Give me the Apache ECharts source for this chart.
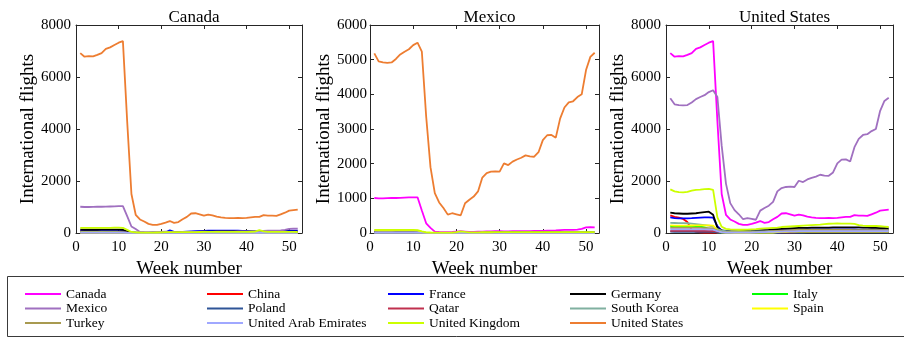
<!DOCTYPE html>
<html><head><meta charset="utf-8">
<script src="https://cdn.jsdelivr.net/npm/echarts@6/dist/echarts.min.js"></script>
<style>html,body{margin:0;padding:0;background:#fff}#c{width:904px;height:339px}</style>
</head><body><div id="c"></div>
<script>
const weeks = [1,2,3,4,5,6,7,8,9,10,11,12,13,14,15,16,17,18,19,20,21,22,23,24,25,26,27,28,29,30,31,32,33,34,35,36,37,38,39,40,41,42,43,44,45,46,47,48,49,50,51,52];
const countries = ['Canada','China','France','Germany','Italy','Mexico','Poland','Qatar','South Korea','Spain','Turkey','United Arab Emirates','United Kingdom','United States'];
const panelTitles = ['Canada','Mexico','United States'];
const yMax = [8000, 6000, 8000];
const yStep = [2000, 1000, 2000];
const xTicks = [0,10,20,30,40,50];

// Canada panel
const ca_US = [6920,6780,6800,6790,6850,6920,7080,7140,7230,7320,7380,4300,1500,700,520,440,350,310,310,350,400,460,390,420,530,620,750,760,720,670,710,680,630,600,580,575,575,580,570,580,600,620,620,690,670,665,660,720,780,860,880,900];
const ca_MX = [1010,1000,1000,1005,1010,1010,1015,1020,1025,1030,1030,650,250,150,40,30,25,25,30,40,50,40,30,35,40,40,45,45,50,55,45,45,50,50,55,55,55,60,60,60,65,70,75,85,90,90,90,100,120,160,170,165];
const ca_UK = [200,195,195,195,195,200,200,200,205,205,200,120,40,25,20,18,18,18,20,22,30,35,30,30,32,34,35,36,38,40,40,40,42,42,42,44,45,45,45,45,48,50,110,60,45,42,40,40,40,42,40,38];
const ca_DE = [130,125,125,125,125,128,130,130,130,130,125,60,20,12,10,10,10,10,12,12,15,18,20,22,25,30,35,40,45,50,55,55,58,60,60,60,58,58,55,55,55,55,55,55,50,50,50,50,50,50,50,50];
const ca_FR = [70,68,68,68,70,70,72,72,72,72,70,40,15,10,8,8,8,10,10,12,30,100,40,30,40,50,60,70,80,85,95,95,95,95,95,90,90,90,85,85,85,85,80,80,80,80,80,80,85,90,95,95];
const ca_CN = [60,55,50,40,20,8,5,5,5,5,5,4,3,3,3,3,3,3,3,3,3,3,3,3,3,3,3,3,3,3,3,3,3,3,3,3,3,3,3,3,3,3,3,3,3,3,3,3,3,3,3,3];
const ca_IT = [25,25,25,25,25,25,24,22,20,12,6,3,2,2,2,2,2,2,2,2,2,2,2,2,3,4,5,6,6,6,6,6,6,6,6,6,6,6,6,6,6,6,6,6,6,6,6,6,6,6,6,6];
const ca_ES = [20,20,20,20,20,20,20,20,20,20,18,8,3,2,2,2,2,2,2,2,2,2,2,2,3,4,5,6,6,6,6,6,6,6,6,6,6,6,6,6,6,6,6,6,6,6,6,6,6,6,6,6];
const ca_PL = [10,10,10,10,10,10,10,10,10,10,10,5,2,1,1,1,1,1,1,1,1,1,1,1,1,2,2,2,2,2,2,2,2,2,2,2,2,2,2,2,2,2,2,2,2,2,2,2,2,2,2,2];
const ca_QA = [14,14,14,14,14,14,14,14,14,14,14,10,6,5,5,5,5,5,5,5,5,5,5,5,6,6,7,8,8,8,8,8,8,8,8,8,8,8,8,8,8,8,8,8,8,8,8,8,8,8,8,8];
const ca_KR = [22,22,22,22,22,20,18,16,15,15,14,8,5,4,4,4,4,4,4,4,4,4,4,5,5,6,6,6,6,6,6,6,6,6,6,6,6,6,6,6,6,6,6,6,6,6,6,6,6,6,6,6];
const ca_TR = [14,14,14,14,14,14,14,14,14,14,13,7,3,2,2,2,2,2,2,2,2,2,3,3,4,5,6,7,7,8,8,8,8,8,8,8,8,8,8,8,8,8,8,8,8,8,8,8,8,8,8,8];
const ca_AE = [18,18,18,18,18,18,18,18,18,18,17,10,5,4,4,4,4,4,4,4,4,4,5,5,6,7,8,9,9,10,10,10,10,10,10,10,10,10,10,10,10,10,10,10,10,10,10,10,10,10,10,10];

// Mexico panel
const mx_US = [5180,4950,4920,4910,4920,5020,5150,5230,5300,5420,5490,5230,3360,1900,1150,880,720,530,570,540,510,860,960,1050,1200,1600,1730,1770,1780,1770,2010,1960,2060,2120,2170,2240,2210,2200,2330,2680,2820,2830,2750,3300,3620,3770,3800,3920,4000,4700,5080,5200];
const mx_CA = [1010,1000,1000,1005,1010,1010,1015,1020,1025,1030,1030,650,280,150,40,30,25,25,30,40,50,40,30,35,40,40,45,45,50,55,45,45,50,50,55,55,55,60,60,60,65,70,75,85,90,90,90,100,120,160,170,165];
const mx_UK = [90,88,88,88,88,90,90,90,90,90,85,50,20,15,12,10,10,12,15,25,50,30,20,20,20,22,22,22,24,24,25,25,25,25,26,26,26,26,27,27,28,28,28,28,28,28,28,28,28,28,28,28];
const mx_ES = [75,72,72,72,72,74,75,75,76,76,70,35,10,5,5,5,5,5,5,5,5,5,5,6,6,7,8,8,9,10,10,10,10,10,10,10,10,10,10,10,10,10,10,10,10,10,10,10,10,10,10,10];
const mx_DE = [35,34,34,34,34,35,35,35,35,35,32,15,5,3,3,3,3,3,3,3,3,3,4,4,5,6,7,8,8,8,8,8,8,8,8,8,8,8,8,8,8,8,8,8,8,8,8,8,8,8,8,8];
const mx_FR = [40,38,38,38,38,40,40,40,40,40,36,18,6,4,4,4,4,4,4,4,4,4,5,5,6,8,10,12,12,14,14,15,15,15,16,16,16,17,17,18,18,18,18,18,18,18,18,18,18,18,18,18];
const mx_CN = [8,8,8,8,4,2,1,1,1,1,1,1,1,1,1,1,1,1,1,1,1,1,1,1,1,1,1,1,1,1,1,1,1,1,1,1,1,1,1,1,1,1,1,1,1,1,1,1,1,1,1,1];
const mx_IT = [6,6,6,6,6,6,6,6,5,3,2,1,1,1,1,1,1,1,1,1,1,1,1,1,1,1,1,1,1,1,1,1,1,1,1,1,1,1,1,1,1,1,1,1,1,1,1,1,1,1,1,1];
const mx_PL = [3,3,3,3,3,3,3,3,3,3,3,2,1,1,1,1,1,1,1,1,1,1,1,1,1,1,1,1,1,1,1,1,1,1,1,1,1,1,1,1,1,1,1,1,1,1,1,1,1,1,1,1];
const mx_QA = [8,8,8,8,8,8,8,8,8,8,8,6,4,3,3,3,3,3,3,3,3,3,3,3,3,4,4,4,4,4,4,4,4,4,4,4,4,4,4,4,4,4,4,4,4,4,4,4,4,4,4,4];
const mx_KR = [10,10,10,10,10,10,9,8,8,8,7,4,2,2,2,2,2,2,2,2,2,2,2,2,2,2,2,2,2,2,2,2,2,2,2,2,2,2,2,2,2,2,2,2,2,2,2,2,2,2,2,2];
const mx_TR = [12,12,12,12,12,12,12,12,12,12,11,6,3,2,2,2,2,2,2,2,2,2,3,3,4,5,6,7,7,8,8,8,8,8,8,8,8,8,8,8,8,8,8,8,8,8,8,8,8,8,8,8];
const mx_AE = [15,15,15,15,15,15,15,15,15,15,14,8,4,3,3,3,3,3,3,3,3,3,3,3,4,5,6,6,6,6,6,6,6,6,6,6,6,6,6,6,6,6,6,6,6,6,6,6,6,6,6,6];

// United States panel
const us_CA = [6920,6780,6800,6790,6850,6920,7080,7140,7230,7320,7380,4300,1500,700,520,440,350,310,310,350,400,460,390,420,530,620,750,760,720,670,710,680,630,600,580,575,575,580,570,580,600,620,620,690,670,665,660,720,780,860,880,900];
const us_MX = [5180,4950,4920,4910,4920,5020,5150,5230,5300,5420,5490,5230,3360,1900,1150,880,720,530,570,540,510,860,960,1050,1200,1600,1730,1770,1780,1770,2010,1960,2060,2120,2170,2240,2210,2200,2330,2680,2820,2830,2750,3300,3620,3770,3800,3920,4000,4700,5080,5200];
const us_UK = [1680,1600,1570,1560,1580,1630,1660,1670,1690,1700,1660,600,240,160,140,130,125,125,130,140,150,165,180,190,200,210,230,240,250,260,270,280,290,300,310,320,340,355,360,365,360,360,360,350,300,280,270,270,270,260,245,230];
const us_DE = [780,760,750,740,740,750,760,780,800,820,700,200,100,80,70,65,65,70,75,80,90,100,110,120,140,150,160,170,180,190,195,200,200,205,205,210,210,210,215,215,220,220,220,220,215,210,205,200,195,190,185,180];
const us_FR = [600,570,560,560,565,570,580,590,600,600,590,260,90,60,50,45,45,50,55,60,70,80,90,95,100,105,110,115,120,125,130,130,135,135,140,140,140,140,140,140,140,140,135,135,130,130,130,125,125,125,120,120];
const us_CN = [680,620,590,540,420,120,40,25,20,20,20,18,15,15,15,15,15,15,15,18,20,20,20,22,22,25,25,25,28,28,30,30,30,30,30,32,32,32,32,35,35,35,35,35,35,35,35,35,35,35,35,35];
const us_KR = [390,385,380,380,375,360,340,320,300,280,250,150,90,70,60,55,55,55,55,60,60,65,65,70,70,75,75,80,80,85,85,90,90,90,90,95,95,95,95,100,100,100,100,100,100,100,100,100,100,100,100,100];
const us_ES = [290,285,285,285,285,288,290,290,290,290,280,100,25,15,12,10,10,10,10,12,12,12,15,15,20,30,40,45,50,55,55,55,55,55,55,55,55,55,55,55,55,55,55,55,55,55,55,55,55,55,55,55];
const us_IT = [260,255,255,255,255,255,250,240,220,150,60,25,15,10,10,10,10,10,10,10,12,12,15,20,25,30,40,45,50,55,55,55,55,55,55,55,55,55,55,55,55,55,55,50,50,50,50,50,50,50,50,50];
const us_TR = [200,195,195,195,195,195,195,195,190,185,175,90,40,30,25,25,25,25,25,30,35,40,50,60,70,80,90,100,110,115,120,120,120,120,120,120,120,120,120,120,120,115,115,110,110,110,110,110,110,110,110,110];
const us_AE = [140,138,138,138,138,138,138,138,136,135,130,70,30,20,15,15,15,15,18,20,25,30,35,40,45,50,55,60,65,65,70,70,70,70,70,70,70,70,70,70,70,70,70,70,70,70,70,70,70,70,70,70];
const us_QA = [80,78,78,78,78,78,78,78,78,78,76,50,30,25,25,25,25,25,25,28,30,32,35,38,40,45,50,55,55,60,60,60,60,60,60,60,60,60,60,60,60,60,60,60,60,60,60,60,60,60,60,60];
const us_PL = [50,48,48,48,48,48,48,48,48,48,46,20,8,5,5,5,5,5,5,5,5,6,6,7,8,10,12,15,18,20,20,20,22,22,22,22,22,22,22,22,22,22,22,22,22,22,22,22,22,22,22,22];

const colors = {
  'Canada':'#FF00FF','China':'#FF0000','France':'#0000FF','Germany':'#000000','Italy':'#00FF00',
  'Mexico':'#A070C0','Poland':'#2F5597','Qatar':'#C0304F','South Korea':'#80B0A0','Spain':'#FFFF00',
  'Turkey':'#A89A50','United Arab Emirates':'#A0A8FF','United Kingdom':'#CCFF00','United States':'#ED7D31'
};

const panels = [
  {'China':ca_CN,'France':ca_FR,'Germany':ca_DE,'Italy':ca_IT,'Mexico':ca_MX,'Poland':ca_PL,'Qatar':ca_QA,'South Korea':ca_KR,'Spain':ca_ES,'Turkey':ca_TR,'United Arab Emirates':ca_AE,'United Kingdom':ca_UK,'United States':ca_US},
  {'Canada':mx_CA,'China':mx_CN,'France':mx_FR,'Germany':mx_DE,'Italy':mx_IT,'Poland':mx_PL,'Qatar':mx_QA,'South Korea':mx_KR,'Spain':mx_ES,'Turkey':mx_TR,'United Arab Emirates':mx_AE,'United Kingdom':mx_UK,'United States':mx_US},
  {'Canada':us_CA,'China':us_CN,'France':us_FR,'Germany':us_DE,'Italy':us_IT,'Mexico':us_MX,'Poland':us_PL,'Qatar':us_QA,'South Korea':us_KR,'Spain':us_ES,'Turkey':us_TR,'United Arab Emirates':us_AE,'United Kingdom':us_UK}
];

const FONT = 'Liberation Serif';
const AX = '#262626';
const gridPos = [
  {left:76, width:226, top:25, height:208},
  {left:370, width:229, top:25, height:208},
  {left:666, width:227, top:25, height:208}
];
const yNameGap = [37, 27, 38];

const grid = [], xAxis = [], yAxis = [], series = [], title = [];
gridPos.forEach((g, i) => {
  grid.push({left:g.left, top:g.top, width:g.width, height:g.height, show:false});
  title.push({text:panelTitles[i], left:g.left + g.width/2, top:4, textAlign:'center',
    textStyle:{fontFamily:FONT, fontSize:17, fontWeight:'normal', color:'#000'}});
  const common = {type:'value', min:0, max:53, interval:10, gridIndex:i,
    axisLine:{show:true, onZero:false, lineStyle:{color:AX, width:1}},
    axisTick:{show:true, inside:true, length:4, lineStyle:{color:AX}},
    splitLine:{show:false}};
  xAxis.push(Object.assign({}, common, {position:'bottom',
    name:'Week number', nameLocation:'middle', nameGap:27,
    nameTextStyle:{fontFamily:FONT, fontSize:19, color:'#000'},
    axisLabel:{fontFamily:FONT, fontSize:15, color:'#000', margin:7,
      formatter: v => xTicks.indexOf(v) >= 0 ? String(v) : ''}}));
  xAxis.push(Object.assign({}, common, {position:'top', axisLabel:{show:false}}));
  const ycommon = {type:'value', min:0, max:yMax[i], interval:yStep[i], gridIndex:i,
    axisLine:{show:true, onZero:false, lineStyle:{color:AX, width:1}},
    axisTick:{show:true, inside:true, length:4, lineStyle:{color:AX}},
    splitLine:{show:false}};
  yAxis.push(Object.assign({}, ycommon, {position:'left',
    name:'International flights', nameLocation:'middle', nameGap:yNameGap[i],
    nameTextStyle:{fontFamily:FONT, fontSize:19, color:'#000'},
    axisLabel:{fontFamily:FONT, fontSize:15, color:'#000', margin:i === 1 ? 3 : 5,
      formatter: v => String(v)}}));
  yAxis.push(Object.assign({}, ycommon, {position:'right', axisLabel:{show:false}}));
  countries.forEach(name => {
    const vals = panels[i][name];
    if (!vals) return;
    series.push({name:name, type:'line', xAxisIndex:2*i, yAxisIndex:2*i,
      data: weeks.map((w, k) => [w, vals[k]]),
      symbol:'none', smooth:false, color:colors[name],
      lineStyle:{width:1.8, color:colors[name]}, emphasis:{disabled:true}, silent:true,
      z: countries.indexOf(name) + 2});
  });
});

const legCols = [
  ['Canada','Mexico','Turkey'],
  ['China','Poland','United Arab Emirates'],
  ['France','Qatar','United Kingdom'],
  ['Germany','South Korea','United States'],
  ['Italy','Spain']
];
const legX = [25, 207, 388, 570, 752];
const legend = legCols.map((names, j) => ({
  orient:'vertical', left:legX[j], top:287, padding:0, itemGap:0.5,
  itemWidth:36, itemHeight:2, icon:'rect', selectedMode:false,
  data:names,
  textStyle:{fontFamily:FONT, fontSize:13.5, color:'#000', lineHeight:14}
}));

const chart = echarts.init(document.getElementById('c'), null, {renderer:'canvas'});
chart.setOption({
  animation:false,
  backgroundColor:'#fff',
  title, grid, xAxis, yAxis, series, legend,
  graphic:[{type:'rect', shape:{x:7.5, y:276.5, width:920, height:60},
    style:{fill:'none', stroke:'#3a3a3a', lineWidth:1}, z:-1}]
});
</script></body></html>
